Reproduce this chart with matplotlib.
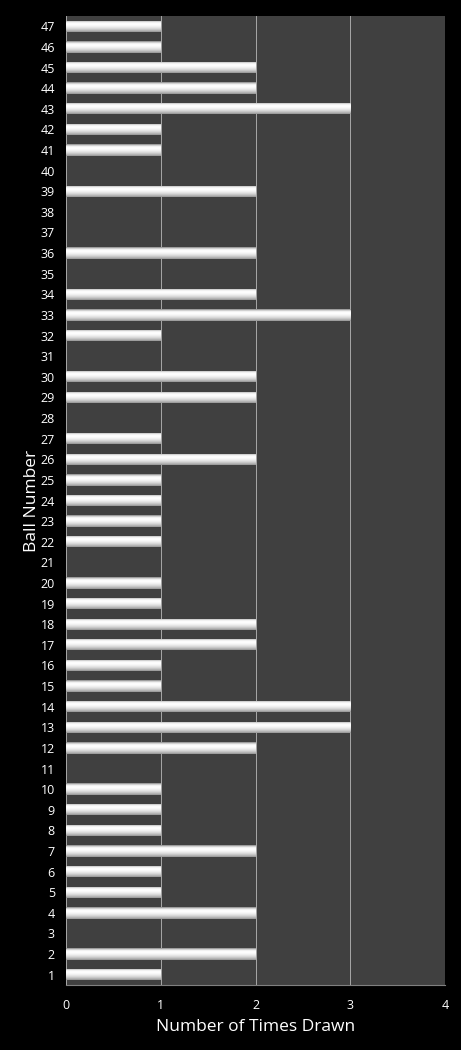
import matplotlib
matplotlib.use("Agg")
import matplotlib.pyplot as plt
import numpy as np

balls = list(range(1, 48))
draws = [1, 2, 0, 2, 1, 1, 2, 1, 1, 1,
         0, 2, 3, 3, 1, 1, 2, 2, 1, 1,
         0, 1, 1, 1, 1, 2, 1, 0, 2, 2,
         0, 1, 3, 2, 0, 2, 0, 0, 2, 0,
         1, 1, 3, 2, 2, 1, 1]
xticks = [0, 1, 2, 3, 4]

plt.rcParams['font.family'] = ['Open Sans', 'DejaVu Sans']

fig = plt.figure(figsize=(4.61, 10.5), dpi=100, facecolor='black')
ax = fig.add_axes([66/461, 1-985/1050, (445-66)/461, (985-16)/1050])
ax.set_facecolor('#404040')

bars = ax.barh(balls, draws, height=0.55, color='white', zorder=3, edgecolor='none')

# gradient overlay: gray at top edge, white upper-middle, gray at bottom
prof = np.array([0.62, 0.85, 0.97, 1.0, 0.99, 0.96, 0.92, 0.87, 0.80, 0.72, 0.62])
grad = np.stack([prof, prof, prof], axis=-1)[:, None, :]
for b, v in zip(bars, draws):
    if v <= 0:
        continue
    x0, y0 = b.get_x(), b.get_y()
    w, h = b.get_width(), b.get_height()
    im = ax.imshow(grad, extent=[x0, x0 + w, y0, y0 + h], origin='upper',
                   aspect='auto', interpolation='bilinear', zorder=4)
    im.set_clip_path(b)

ax.set_xlim(0, 4)
ax.set_ylim(0.5, 47.5)
ax.set_xticks(xticks)
ax.set_yticks(balls)
ax.set_yticklabels([str(b) for b in balls])
ax.grid(axis='x', color='#a8a8a8', linewidth=0.7, zorder=1)
ax.tick_params(axis='both', colors='white', labelsize=9, length=0, pad=8)
ax.tick_params(axis='x', pad=10)
for s in ['left', 'right', 'top']:
    ax.spines[s].set_visible(False)
ax.spines['bottom'].set_color('#808080')
ax.set_xlabel('Number of Times Drawn', color='white', fontsize=12.5, labelpad=5)
ax.set_ylabel('Ball Number', color='white', fontsize=12.5, labelpad=0)

fig.savefig('out.png', dpi=100, facecolor='black')
